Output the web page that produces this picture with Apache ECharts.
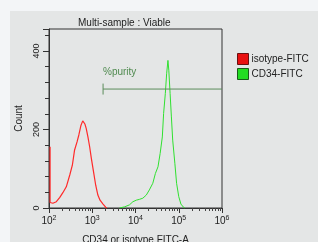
<!DOCTYPE html>
<html>
<head>
<meta charset="utf-8">
<script src="https://cdn.jsdelivr.net/npm/echarts@6/dist/echarts.min.js"></script>
<style>
  html, body { margin: 0; padding: 0; background: #f3f5f7; }
  #main { width: 318px; height: 242px; }
</style>
</head>
<body>
<div id="main"></div>
<script>
// x values are log10 of FITC-A intensity, y values are counts
var redLogX = [2.025, 2.025, 2.03, 2.09, 2.17, 2.25, 2.32, 2.40, 2.48, 2.54, 2.59, 2.65, 2.69, 2.74, 2.78, 2.83, 2.86, 2.90, 2.94, 2.98, 3.03, 3.08, 3.13, 3.18, 3.25, 3.31, 3.34];
var redCount = [156, 14, 16, 12, 16, 27, 39, 54, 84, 109, 147, 169, 186, 211, 222, 214, 203, 181, 156, 126, 92, 58, 33, 20, 10, 2, 0];

var greenLogX = [3.63, 3.75, 3.86, 3.94, 4.02, 4.09, 4.17, 4.25, 4.32, 4.40, 4.46, 4.52, 4.57, 4.62, 4.65, 4.69, 4.72, 4.75, 4.77, 4.80, 4.83, 4.86, 4.91, 4.95, 5.00, 5.05, 5.11, 5.14];
var greenCount = [0, 3, 8, 16, 20, 22, 25, 33, 46, 63, 88, 105, 139, 181, 241, 292, 342, 376, 351, 292, 232, 173, 114, 63, 29, 10, 2, 0];

var decades = [2, 3, 4, 5, 6];
var minorMult = [2, 3, 4, 5, 6, 7, 8, 9];

var gateStart = 3.25, gateEnd = 6, gateLevel = 303, gateCap = 14;

function pairs(xs, ys) {
    return xs.map(function (x, i) { return [x, ys[i]]; });
}

var minorTicks = [];
decades.slice(0, -1).forEach(function (d) {
    minorMult.forEach(function (m) { minorTicks.push(d + Math.log10(m)); });
});

var myChart = echarts.init(document.getElementById('main'));
var font = 'Liberation Sans, Arial, sans-serif';

var option = {
    backgroundColor: '#f3f5f7',
    animation: false,
    title: {
        text: 'Multi-sample : Viable',
        left: 73,
        top: 13,
        textStyle: { fontSize: 10, fontWeight: 'normal', color: '#222', fontFamily: font }
    },
    legend: {
        orient: 'vertical',
        left: 232,
        top: 48,
        itemWidth: 11,
        itemHeight: 11,
        itemGap: 3,
        icon: 'rect',
        textStyle: { fontSize: 10, color: '#222', fontFamily: font, padding: [0, 0, 0, -2] },
        data: [
            { name: 'isotype-FITC', itemStyle: { color: '#e81010', borderColor: '#6a1010', borderWidth: 1 }, lineStyle: { width: 0 } },
            { name: 'CD34-FITC', itemStyle: { color: '#22dd22', borderColor: '#1a5a1a', borderWidth: 1 }, lineStyle: { width: 0 } }
        ]
    },
    graphic: [
        {
            type: 'rect', z: -10, silent: true,
            shape: { x: 10, y: 11, width: 308, height: 231 },
            style: { fill: '#e4e6e6' }
        },
        {
            type: 'text', x: 103, y: 67,
            style: { text: '%purity', fontSize: 10, fill: '#4f8a4f', fontFamily: font }
        }
    ],
    grid: {
        left: 49, top: 29, right: 96, bottom: 34,
        outerBoundsMode: 'none',
        containLabel: false,
        show: true, borderColor: '#333', borderWidth: 1, backgroundColor: 'transparent'
    },
    xAxis: [
        {
            type: 'value', min: 2, max: 6, interval: 1,
            name: 'CD34 or isotype FITC-A',
            nameLocation: 'middle', nameGap: 27,
            nameTextStyle: { fontSize: 10, color: '#222', fontFamily: font, verticalAlign: 'top' },
            axisLine: { lineStyle: { color: '#333', width: 1 } },
            axisTick: { show: true, length: 3, customValues: minorTicks, lineStyle: { color: '#444' } },
            splitLine: { show: false },
            axisLabel: {
                margin: 7, color: '#222', fontFamily: font,
                formatter: function (v) { return '{b|10}{s|' + v + '}'; },
                rich: {
                    b: { fontSize: 10, lineHeight: 12, color: '#222', fontFamily: font },
                    s: { fontSize: 7, lineHeight: 7, verticalAlign: 'top', color: '#222', fontFamily: font }
                }
            }
        },
        {
            type: 'value', min: 2, max: 6, interval: 1, gridIndex: 0, position: 'bottom',
            axisLine: { show: false },
            axisLabel: { show: false },
            splitLine: { show: false },
            axisTick: { show: true, length: 5, lineStyle: { color: '#333' } }
        }
    ],
    yAxis: {
        type: 'value', min: 0, max: 456, interval: 200,
        name: 'Count', nameLocation: 'middle', nameGap: 25,
        nameTextStyle: { fontSize: 10, color: '#222', fontFamily: font },
        axisLine: { show: true, lineStyle: { color: '#333' } },
        axisTick: { show: true, length: 6, lineStyle: { color: '#333' } },
        minorTick: { show: true, splitNumber: 5, length: 4, lineStyle: { color: '#333' } },
        splitLine: { show: false },
        axisLabel: {
            rotate: 90, margin: 8, fontSize: 9, color: '#222', fontFamily: font,
            showMaxLabel: false
        }
    },
    series: [
        {
            name: 'isotype-FITC', type: 'line', symbol: 'none', clip: false, z: 5,
            lineStyle: { color: '#ff2a2a', width: 1.2 },
            itemStyle: { color: '#e81010' },
            data: pairs(redLogX, redCount)
        },
        {
            name: 'CD34-FITC', type: 'line', symbol: 'none',
            lineStyle: { color: '#30e030', width: 1 },
            itemStyle: { color: '#22dd22' },
            data: pairs(greenLogX, greenCount)
        },
        {
            name: 'gate', type: 'line', symbol: 'none', silent: true,
            lineStyle: { color: '#5b8c5b', width: 1 },
            data: [[gateStart, gateLevel], [gateEnd, gateLevel]]
        },
        {
            name: 'gateCap', type: 'line', symbol: 'none', silent: true,
            lineStyle: { color: '#5b8c5b', width: 1 },
            data: [[gateStart, gateLevel - gateCap], [gateStart, gateLevel + gateCap]]
        }
    ]
};
myChart.setOption(option);
</script>
</body>
</html>
